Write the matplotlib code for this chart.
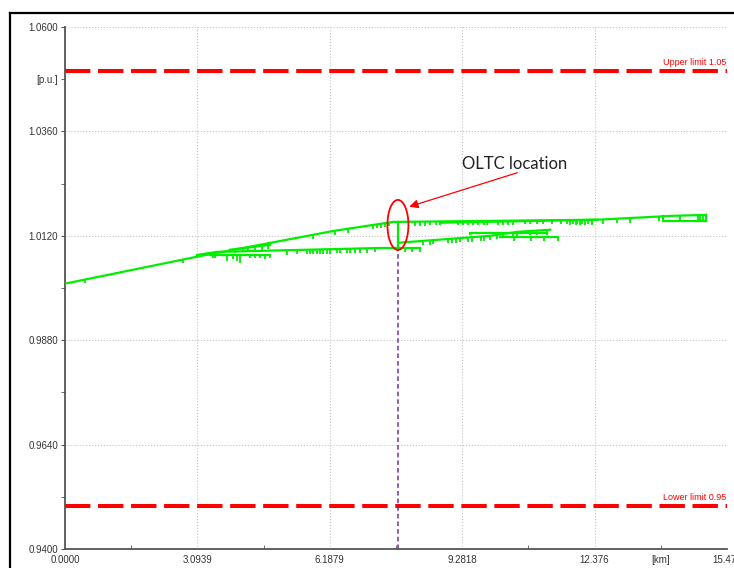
import numpy as np
import matplotlib.pyplot as plt
from matplotlib.lines import Line2D
from matplotlib.patches import Ellipse

# axis ticks (km / p.u.)
x_major = [0.0, 3.0939, 6.1879, 9.2818, 12.376, 15.4697]
x_major_labels = ["0.0000", "3.0939", "6.1879", "9.2818", "12.376", "15.470"]
y_major = [0.94, 0.964, 0.988, 1.012, 1.036, 1.06]
y_major_labels = ["0.9400", "0.9640", "0.9880", "1.0120", "1.0360", "1.0600"]
upper_limit = 1.05
lower_limit = 0.95
oltc_km = 7.79

# feeder voltage profiles: (km, p.u.) nodes
trunk_km = [0.0, 3.087, 6.267, 7.671, 7.79, 12.44]
trunk_pu = [1.0010, 1.0072, 1.0131, 1.0152, 1.0152, 1.0157]
trunk_drops = [0.47, 2.76, 5.80, 6.31, 6.62, 7.20, 7.30, 7.39, 7.48, 7.58,
               8.19, 8.30, 8.42, 8.54, 8.68, 8.77, 9.19, 9.31, 9.42, 9.54,
               9.66, 9.78, 9.87, 10.13, 10.24, 10.36, 10.48, 10.76, 10.87,
               11.02, 11.16, 11.39, 11.58, 11.74, 11.86, 11.97, 12.09, 12.21, 12.32]

lineb_km = [8.77, 12.44, 14.22, 14.97, 14.97]
lineb_pu = [1.0150, 1.0157, 1.0166, 1.0168, 1.0154]
lineb_drops = [11.81, 11.93, 12.04, 12.16, 12.32, 12.58, 12.91, 13.21, 13.87,
               14.38, 14.80, 14.85, 14.92]
lineb2_km = [13.98, 13.98, 14.97]
lineb2_pu = [1.0165, 1.0154, 1.0154]

lined_km = [3.087, 3.55, 7.37, 8.30]
lined_pu = [1.0076, 1.0083, 1.0092, 1.0092]
lined_drops = [5.19, 5.43, 5.66, 5.73, 5.80, 5.89, 5.96, 6.03, 6.13, 6.20,
               6.36, 6.43, 6.59, 6.67, 6.78, 6.90, 7.06, 7.25, 7.95, 8.11, 8.30]

linee_km = [3.39, 4.79]
linee_pu = [1.0076, 1.0076]
linee_drops = [3.46, 3.51, 3.79, 3.93, 4.02, 4.09, 4.33, 4.44, 4.56, 4.68, 4.79]
linee_depth = [0.0008, 0.0008, 0.0014, 0.0010, 0.0014, 0.0018, 0.0008, 0.0008,
               0.0008, 0.0010, 0.0008]

linef_km = [3.86, 4.79]
linef_pu = [1.0088, 1.0099]
linef_drops = [3.98, 4.16, 4.28, 4.44, 4.61, 4.75]

linec_km = [7.79, 9.94, 10.57, 11.34]
linec_pu = [1.0104, 1.0120, 1.0129, 1.0134]
linec_drops = [8.37, 8.54, 8.61, 8.96, 9.05, 9.14, 9.24, 9.42, 9.52, 9.71,
               9.78, 9.94, 10.10, 10.24, 10.48, 10.57, 10.87, 11.04, 11.27]
linec2_km = [9.47, 11.27]
linec2_pu = [1.0127, 1.0127]
linec3_km = [10.17, 11.51]
linec3_pu = [1.0118, 1.0118]
linec3_drops = [10.50, 10.90, 11.20, 11.51]

green = "#00ee00"
fig = plt.figure(figsize=(7.34, 5.68), dpi=100)
ax = fig.add_axes([65 / 734, 1 - 549 / 568, 662 / 734, 522 / 568])


def draw_line(xs, ys, drops=None, depth=0.0009):
    ax.plot(xs, ys, color=green, lw=1.6, solid_joinstyle="miter", zorder=3)
    if drops is None:
        return
    tops = np.interp(drops, xs, ys)
    d = np.broadcast_to(np.asarray(depth), np.shape(tops))
    ax.vlines(drops, tops - d, tops, color=green, lw=1.3, zorder=3)


draw_line(trunk_km, trunk_pu, trunk_drops, 0.0009)
draw_line(lineb_km[:4], lineb_pu[:4], lineb_drops, 0.0011)
ax.plot(lineb_km[3:], lineb_pu[3:], color=green, lw=1.6, zorder=3)
draw_line(lineb2_km, lineb2_pu)
draw_line(lined_km, lined_pu, lined_drops, 0.0010)
draw_line(linee_km, linee_pu, linee_drops, linee_depth)
draw_line(linef_km, linef_pu, linef_drops, 0.0009)
draw_line(linec_km, linec_pu, linec_drops, 0.0010)
draw_line(linec2_km, linec2_pu, [9.47, 11.27], 0.0005)
draw_line(linec3_km, linec3_pu, linec3_drops, 0.0009)
# OLTC step
ax.plot([oltc_km, oltc_km], [lined_pu[2], trunk_pu[3]], color=green, lw=1.6, zorder=3)

# limits
for lim, txt in [(upper_limit, "Upper limit 1.05"), (lower_limit, "Lower limit 0.95")]:
    ax.axhline(lim, color="#ff0000", lw=2.9, dashes=(6.3, 1.9), zorder=2)
    ax.text(x_major[-1] - 0.02, lim + 0.0009, txt, color="#ff0000", fontsize=6.5,
            ha="right", va="bottom", family="Liberation Sans")

# OLTC marker
ax.plot([oltc_km, oltc_km], [0.94, 1.0091], color="#7030a0", lw=1.1,
        dashes=(3, 2), zorder=2)
ax.add_patch(Ellipse((7.78, 1.0145), 0.49, 0.0115, fill=False,
                     edgecolor="red", lw=1.3, zorder=4))
ax.annotate("", xy=(8.045, 1.0187), xytext=(10.57, 1.0265),
            arrowprops=dict(arrowstyle="-|>", color="red", lw=0.9,
                            mutation_scale=13, shrinkA=0, shrinkB=0))
ax.text(10.50, 1.0286, "OLTC location", fontsize=12, family="Lato",
        color="#222222", ha="center", va="center")

ax.set_xlim(x_major[0], x_major[-1])
ax.set_ylim(y_major[0], y_major[-1])
ax.set_xticks(x_major, x_major_labels)
ax.set_yticks(y_major, y_major_labels)
x_minor = [(a + b) / 2 for a, b in zip(x_major[:-1], x_major[1:])]
y_minor = [(a + b) / 2 for a, b in zip(y_major[:-1], y_major[1:])]
ax.set_xticks(x_minor, ["", "", "", "", "[km]"], minor=True)
ax.set_yticks(y_minor, ["", "", "", "", "[p.u.]"], minor=True)
ax.tick_params(axis="both", which="both", labelsize=7, labelcolor="#333333",
               colors="#555555")
ax.tick_params(axis="x", which="major", length=0, pad=4)
ax.tick_params(axis="x", which="minor", length=3, direction="in", pad=4)
ax.tick_params(axis="y", which="both", length=3, direction="out", pad=2)
for lab in ax.get_xticklabels(which="both") + ax.get_yticklabels(which="both"):
    lab.set_family("Liberation Sans")
ax.grid(True, which="major", color="#c4c4c4", ls=":", lw=0.8)
for s in ["top", "right"]:
    ax.spines[s].set_visible(False)
for s in ["left", "bottom"]:
    ax.spines[s].set_color("#555555")
    ax.spines[s].set_linewidth(1.3)

# screenshot frame
fig.add_artist(Line2D([10 / 734, 10 / 734], [0, 1 - 13 / 568], color="black", lw=1.6))
fig.add_artist(Line2D([10 / 734, 1], [1 - 13 / 568, 1 - 13 / 568], color="black", lw=1.6))

fig.savefig("out.png", dpi=100)
